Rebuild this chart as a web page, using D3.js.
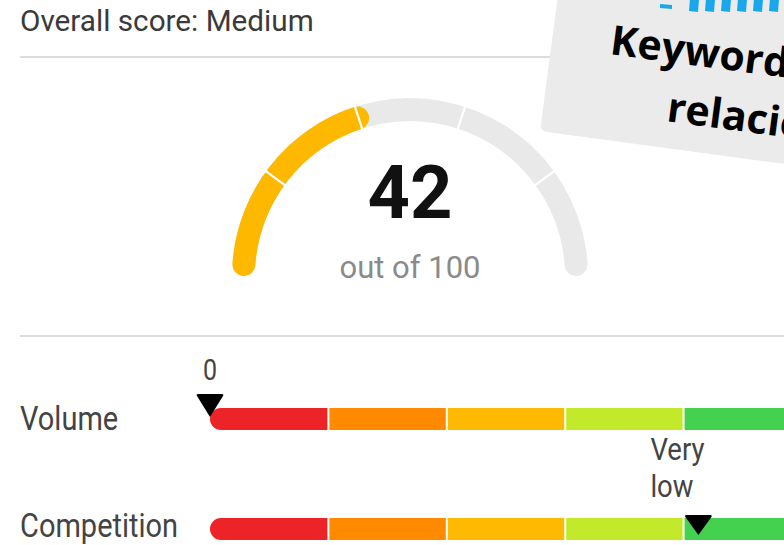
<!DOCTYPE html>
<html>
<head>
<meta charset="utf-8">
<script src="https://cdn.jsdelivr.net/npm/d3@7"></script>
<style>
  html, body { margin: 0; padding: 0; background: #fff; }
  svg { display: block; }
</style>
</head>
<body>
<svg id="chart" width="784" height="545"></svg>
<script>
// ---- data ----
const title = "Overall score: Medium";
const score = 42;
const scoreMax = 100;
const scoreSub = "out of 100";
const gaugeBreaks = [20, 40, 60, 80];
const barCategories = ["Volume", "Competition"];
const barValues = [0, 82.5];
const barValueLabels = [["0"], ["Very", "low"]];
const bandBreaks = [0, 20, 40, 60, 80, 100];
const bandColors = ["#EC2327", "#FF8A00", "#FFB900", "#C3EA2A", "#43D14F"];
const overlayLines = ["Keyword", "relación"];

const svg = d3.select("#chart");
const font = "Roboto, 'Noto Sans', sans-serif";

// ---- title & rules ----
svg.append("text").attr("x", 20).attr("y", 31)
  .attr("font-family", font).attr("font-size", 29.7).attr("fill", "#3a3a3a")
  .text(title);
[57, 336].forEach(y => svg.append("line")
  .attr("x1", 20).attr("x2", 784).attr("y1", y).attr("y2", y)
  .attr("stroke", "#DCDCDC").attr("stroke-width", 2));

// ---- gauge ----
const cx = 410, cy = 276, rOuter = 178, rInner = 155;
const angle = d3.scaleLinear().domain([0, scoreMax]).range([-Math.PI / 2, Math.PI / 2]);
const g = svg.append("g").attr("transform", `translate(${cx},${cy})`);
const arc = d3.arc().innerRadius(rInner).outerRadius(rOuter).cornerRadius(11.5);
g.append("path").attr("d", arc({startAngle: angle(0), endAngle: angle(scoreMax)})).attr("fill", "#E9E9E9");
g.append("path").attr("d", arc({startAngle: angle(0), endAngle: angle(score)})).attr("fill", "#FFB800");
g.selectAll("line.gap").data(gaugeBreaks).join("line")
  .attr("x1", d => Math.sin(angle(d)) * (rInner - 2))
  .attr("y1", d => -Math.cos(angle(d)) * (rInner - 2))
  .attr("x2", d => Math.sin(angle(d)) * (rOuter + 2))
  .attr("y2", d => -Math.cos(angle(d)) * (rOuter + 2))
  .attr("stroke", "#fff").attr("stroke-width", 2.2);
g.append("text").attr("x", 0).attr("y", -58).attr("text-anchor", "middle")
  .attr("font-family", font).attr("font-weight", 700).attr("font-size", 74).attr("fill", "#111")
  .text(score);
g.append("text").attr("x", 0).attr("y", 2).attr("text-anchor", "middle")
  .attr("font-family", font).attr("font-size", 31).attr("fill", "#8a8a8a")
  .text(scoreSub);

// ---- bars ----
const x = d3.scaleLinear().domain([0, 100]).range([210, 802]);
const barTops = [408, 518];
const barH = 22;
const stretch = 1.15;
function label(sel, tx, ty, txt, anchor, size, color) {
  sel.append("text")
    .attr("transform", `translate(${tx},${ty}) scale(1,${stretch})`)
    .attr("text-anchor", anchor)
    .attr("font-family", font).attr("font-size", size).attr("fill", color)
    .text(txt);
}
const labelDy = [22, 19];
barCategories.forEach((cat, i) => {
  const top = barTops[i];
  const bg = svg.append("g");
  label(bg, 20, top + labelDy[i], cat, "start", 29, "#444");
  const segs = bandColors.map((c, k) => ({c, a: bandBreaks[k], b: bandBreaks[k + 1], k}));
  bg.selectAll("path.seg").data(segs).join("path")
    .attr("fill", d => d.c)
    .attr("d", d => {
      const x0 = x(d.a) + (d.k === 0 ? 0 : 1), x1 = x(d.b) - 1, r = barH / 2;
      if (d.k === 0) {
        return `M${x0 + r},${top} L${x1},${top} L${x1},${top + barH} L${x0 + r},${top + barH} A${r},${r} 0 0 1 ${x0},${top + r} A${r},${r} 0 0 1 ${x0 + r},${top} Z`;
      }
      return `M${x0},${top} L${x1},${top} L${x1},${top + barH} L${x0},${top + barH} Z`;
    });
});
// markers
const markerTip = [417, 535];
const markerH = [23, 20];
barValues.forEach((v, i) => {
  const mx = x(v), tip = markerTip[i], h = markerH[i], w = 14;
  svg.append("path")
    .attr("d", `M${mx - w + 2},${tip - h} Q${mx - w},${tip - h} ${mx - w + 1},${tip - h + 2} L${mx},${tip} L${mx + w - 1},${tip - h + 2} Q${mx + w},${tip - h} ${mx + w - 2},${tip - h} Z`)
    .attr("fill", "#000");
  const lines = barValueLabels[i];
  if (lines.length === 1) {
    label(svg, mx, 380, lines[0], "middle", 25, "#444");
  } else {
    lines.forEach((t, j) => label(svg, mx - 48, 460 + j * 37, t, "start", 27.5, "#444"));
  }
});

// ---- overlay card (top right) ----
const ov = svg.append("g");
ov.append("path")
  .attr("d", "M558,-5 L541,124 Q540,131 547,132 L800,166 L800,-5 Z")
  .attr("fill", "#EBEBEB");
const stripes = [660, 690, 706, 722, 738, 754, 770];
ov.selectAll("path.stripe").data(stripes).join("path")
  .attr("d", (d, k) => k === 0
    ? `M${d},4 L${d + 12},5 L${d + 12},9 L${d},8 Z`
    : `M${d},-2 L${d + 9},-1 L${d + 8},12 L${d - 1},11 Z`)
  .attr("fill", "#1AA8EA");
const ot = ov.append("g").attr("transform", "translate(609,54) rotate(7.6)");
ot.append("text").attr("x", 0).attr("y", 0)
  .attr("font-family", "'Open Sans', 'DejaVu Sans', sans-serif").attr("font-weight", 700)
  .attr("font-size", 41).attr("fill", "#000").text(overlayLines[0]);
ot.append("text").attr("x", 65).attr("y", 59)
  .attr("font-family", "'Open Sans', 'DejaVu Sans', sans-serif").attr("font-weight", 700)
  .attr("font-size", 41).attr("fill", "#000").text(overlayLines[1]);
</script>
</body>
</html>
